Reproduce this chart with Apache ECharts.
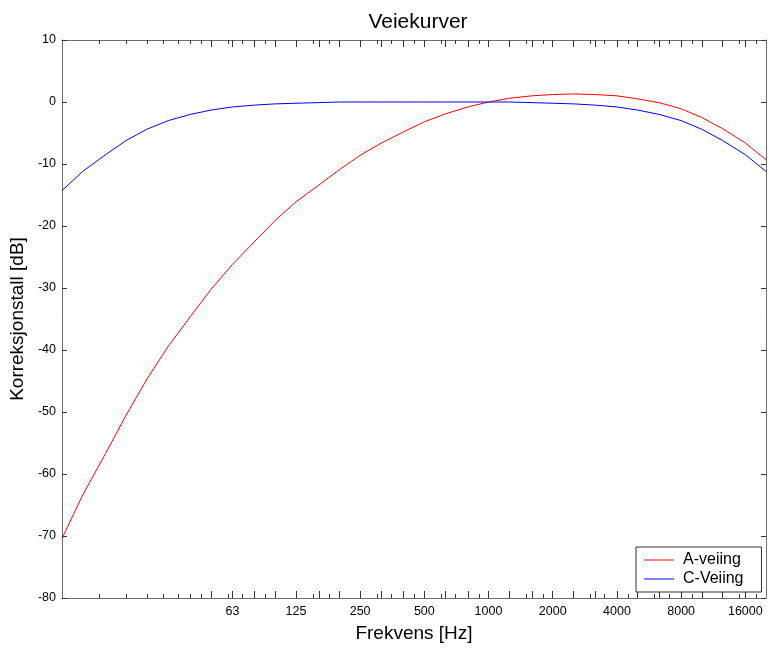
<!DOCTYPE html>
<html>
<head>
<meta charset="utf-8">
<script src="https://cdn.jsdelivr.net/npm/echarts@6/dist/echarts.min.js"></script>
<style>
  html, body { margin: 0; padding: 0; background: #fff; }
  #chart { width: 769px; height: 649px; }
</style>
</head>
<body>
<div id="chart"></div>
<script>
// Third-octave band centre frequencies [Hz]
const freqs = [10, 12.5, 16, 20, 25, 31.5, 40, 50, 63, 80, 100, 125, 160, 200, 250, 315, 400, 500,
  630, 800, 1000, 1250, 1600, 2000, 2500, 3150, 4000, 5000, 6300, 8000, 10000, 12500, 16000, 20000];

// A-weighting correction [dB]
const aWeighting = [-70.4, -63.4, -56.7, -50.5, -44.7, -39.4, -34.6, -30.2, -26.2, -22.5, -19.1, -16.1,
  -13.4, -10.9, -8.6, -6.6, -4.8, -3.2, -1.9, -0.8, 0.0, 0.6, 1.0, 1.2, 1.3, 1.2, 1.0, 0.5, -0.1,
  -1.1, -2.5, -4.3, -6.6, -9.3];

// C-weighting correction [dB]
const cWeighting = [-14.3, -11.2, -8.5, -6.2, -4.4, -3.0, -2.0, -1.3, -0.8, -0.5, -0.3, -0.2, -0.1,
  0.0, 0.0, 0.0, 0.0, 0.0, 0.0, 0.0, 0.0, 0.0, -0.1, -0.2, -0.3, -0.5, -0.8, -1.3, -2.0, -3.0,
  -4.4, -6.2, -8.5, -11.2];

// Labelled octave frequencies on the x axis
const octaveLabels = [63, 125, 250, 500, 1000, 2000, 4000, 8000, 16000];

// Long ticks: band centres
const majorTicks = [50, 63, 80, 100, 125, 160, 200, 250, 315, 400, 500, 630, 800, 1000, 1250, 1600,
  2000, 2500, 3150, 4000, 5000, 6300, 8000, 10000, 12500, 16000];
// Short ticks: log subdivisions of each decade
const minorTicks = [15, 20, 25, 30, 35, 40, 45, 60, 70, 90,
  150, 180, 300, 350, 450, 600, 700, 900,
  1500, 1800, 3000, 3500, 4500, 6000, 7000, 9000,
  15000, 18000];

const fMin = 10, fMax = 20000;
const yTicks = { min: -80, max: 10, step: 10 };

const lg = Math.log10;
const toPoints = vals => freqs.map((f, i) => [lg(f), vals[i]]);

const FONT = '"Liberation Sans", Arial, sans-serif';
const frameColor = '#6e6e6e';
const tickColor = '#333';

function xAxisDef(position, ticks, len, showLine, opts) {
  return Object.assign({
    type: 'value',
    position: position,
    min: lg(fMin),
    max: lg(fMax),
    gridIndex: 0,
    splitLine: { show: false },
    axisLine: { show: showLine, onZero: false, lineStyle: { color: frameColor, width: 1 } },
    axisTick: {
      show: true, inside: true, length: len,
      customValues: ticks.map(lg),
      lineStyle: { color: tickColor, width: 1 }
    },
    axisLabel: { show: false }
  }, opts || {});
}

const chart = echarts.init(document.getElementById('chart'), null, { renderer: 'canvas' });

chart.setOption({
  backgroundColor: '#fff',
  animation: false,
  title: {
    text: 'Veiekurver',
    left: 413, top: 7, textAlign: 'center',
    textStyle: { fontFamily: FONT, fontSize: 21, fontWeight: 'normal', color: '#000' }
  },
  grid: { left: 60, top: 40, width: 706, height: 558, containLabel: false },
  legend: {
    data: ['A-veiing', 'C-Veiing'],
    orient: 'vertical',
    left: 636, top: 547,
    padding: [5, 18, 5, 8],
    icon: 'rect',
    itemWidth: 30, itemHeight: 1, itemGap: 3,
    backgroundColor: '#fff',
    borderColor: '#333', borderWidth: 1, borderRadius: 0,
    textStyle: { fontFamily: FONT, fontSize: 16, color: '#000', padding: [0, 0, 0, 4] }
  },
  xAxis: [
    xAxisDef('bottom', majorTicks, 7, true, {
      name: 'Frekvens [Hz]',
      nameLocation: 'middle',
      nameGap: 26,
      nameTextStyle: { fontFamily: FONT, fontSize: 19, color: '#000' },
      axisLabel: {
        show: true, margin: 7,
        customValues: octaveLabels.map(lg),
        formatter: v => String(Math.round(Math.pow(10, v))),
        fontFamily: FONT, fontSize: 12.5, color: '#000'
      }
    }),
    xAxisDef('bottom', minorTicks, 4, false),
    xAxisDef('top', majorTicks, 7, true),
    xAxisDef('top', minorTicks, 4, false)
  ],
  yAxis: [
    {
      type: 'value', position: 'left',
      min: yTicks.min, max: yTicks.max, interval: yTicks.step,
      name: 'Korreksjonstall [dB]',
      nameLocation: 'middle', nameGap: 26,
      nameTextStyle: { fontFamily: FONT, fontSize: 19, color: '#000' },
      splitLine: { show: false },
      axisLine: { show: true, onZero: false, lineStyle: { color: frameColor } },
      axisTick: { show: true, inside: true, length: 5, lineStyle: { color: tickColor } },
      axisLabel: { margin: 6, fontFamily: FONT, fontSize: 12.5, color: '#000' }
    },
    {
      type: 'value', position: 'right',
      min: yTicks.min, max: yTicks.max, interval: yTicks.step,
      splitLine: { show: false },
      axisLine: { show: true, onZero: false, lineStyle: { color: frameColor } },
      axisTick: { show: true, inside: true, length: 5, lineStyle: { color: tickColor } },
      axisLabel: { show: false }
    }
  ],
  series: [
    {
      name: 'A-veiing', type: 'line',
      xAxisIndex: 0, yAxisIndex: 0,
      data: toPoints(aWeighting),
      symbol: 'none', showSymbol: false,
      color: '#ff0000',
      lineStyle: { color: '#ff0000', width: 1 }
    },
    {
      name: 'C-Veiing', type: 'line',
      xAxisIndex: 0, yAxisIndex: 0,
      data: toPoints(cWeighting),
      symbol: 'none', showSymbol: false,
      color: '#0000ff',
      lineStyle: { color: '#0000ff', width: 1 }
    }
  ]
});
</script>
</body>
</html>
